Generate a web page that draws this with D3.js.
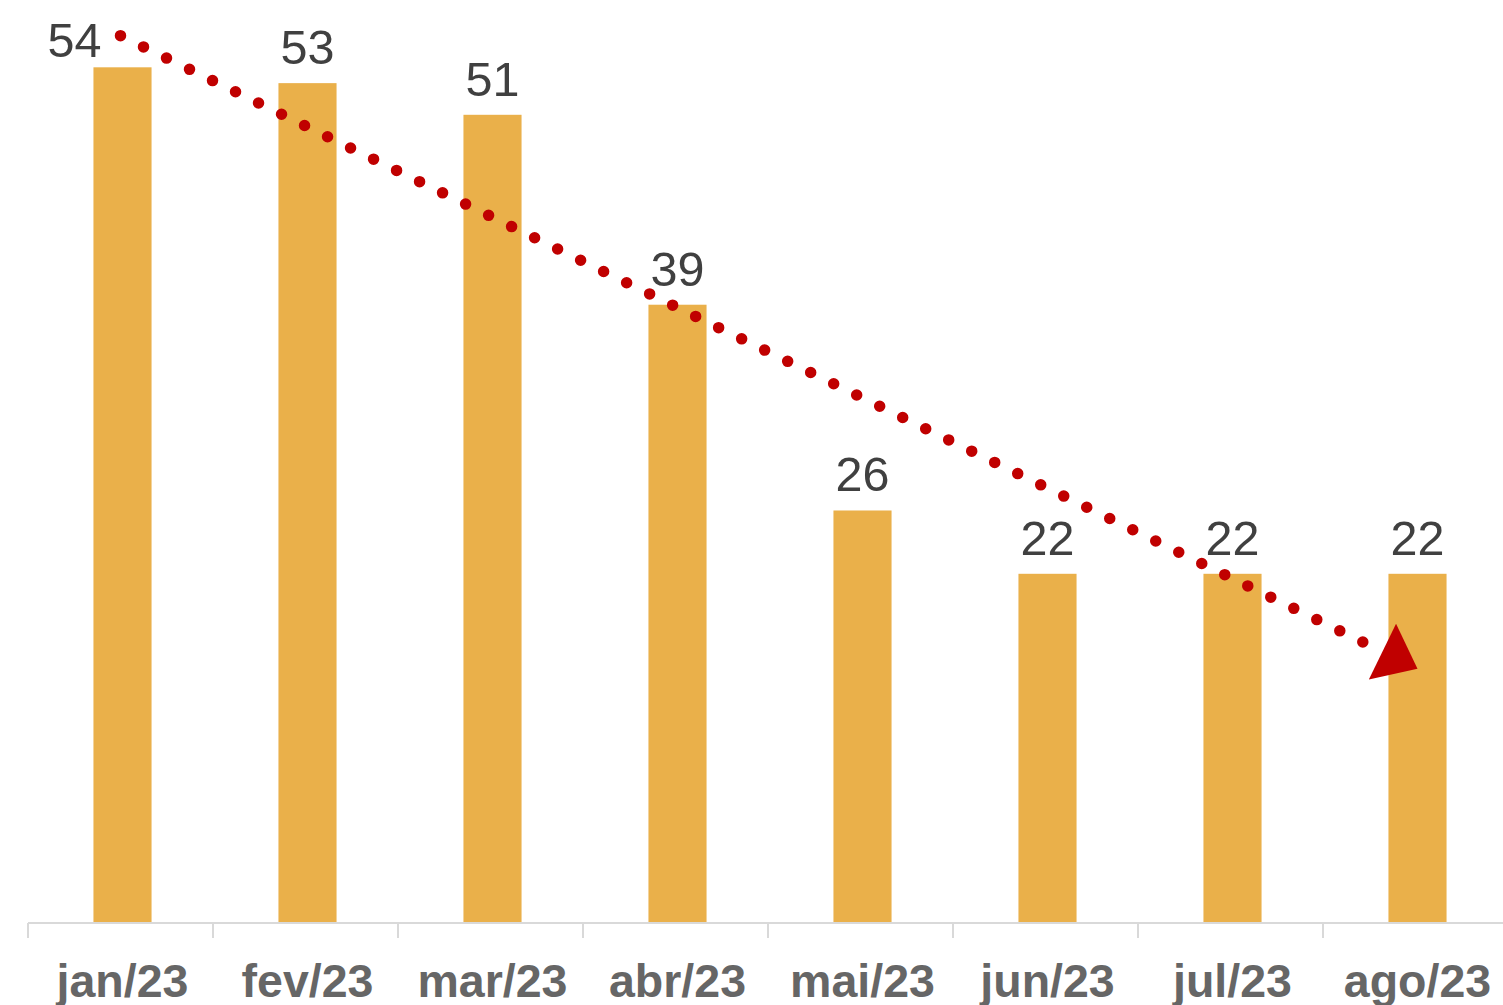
<!DOCTYPE html>
<html>
<head>
<meta charset="utf-8">
<script src="https://cdn.jsdelivr.net/npm/d3@7"></script>
<style>
  html, body { margin: 0; padding: 0; background: #fff; }
  svg { display: block; }
</style>
</head>
<body>
<div id="mainDiv"></div>
<script>
// chart data
var months = [ 'jan/23', 'fev/23', 'mar/23', 'abr/23', 'mai/23', 'jun/23', 'jul/23', 'ago/23' ];
var values = [ 54, 53, 51, 39, 26, 22, 22, 22 ];
// trend arrow annotation (start / end, in data units)
var trendFrom = { month: 'jan/23', value: 56 };
var trendTo = { month: 'ago/23', value: 16 };

var _width = 1503,
    _height = 1005,
    _baseY = 922,
    _barColor = '#EAB04A',
    _red = '#C00000';

var svg = d3.select( '#mainDiv' )
    .append( 'svg' )
    .attr( 'width', _width )
    .attr( 'height', _height );

var x = d3.scaleBand()
    .domain( months )
    .range( [ 30, 1510 ] )
    .paddingInner( 0.686 )
    .paddingOuter( 0.343 );

var y = d3.scaleLinear()
    .domain( [ 0, 58 ] )
    .range( [ _baseY, 4 ] );

var step = 185,
    x0 = 28;

// bars
svg.append( 'g' )
    .selectAll( 'rect' )
    .data( values )
    .join( 'rect' )
    .attr( 'x', function ( d, i ) { return x( months[ i ] ); } )
    .attr( 'y', function ( d ) { return y( d ); } )
    .attr( 'width', x.bandwidth() )
    .attr( 'height', function ( d ) { return y( 0 ) - y( d ); } )
    .attr( 'fill', _barColor );

// axis line + ticks
var axis = svg.append( 'g' ).attr( 'stroke', '#D9D9D9' ).attr( 'stroke-width', 2 );
axis.append( 'line' )
    .attr( 'x1', x0 ).attr( 'x2', _width )
    .attr( 'y1', _baseY + 1 ).attr( 'y2', _baseY + 1 );
axis.selectAll( 'line.tick' )
    .data( months )
    .join( 'line' )
    .attr( 'class', 'tick' )
    .attr( 'x1', function ( d, i ) { return x0 + i * step; } )
    .attr( 'x2', function ( d, i ) { return x0 + i * step; } )
    .attr( 'y1', _baseY + 1 )
    .attr( 'y2', _baseY + 16 );

// category labels
svg.append( 'g' )
    .selectAll( 'text' )
    .data( months )
    .join( 'text' )
    .attr( 'x', function ( d ) { return x( d ) + x.bandwidth() / 2; } )
    .attr( 'y', 997 )
    .attr( 'text-anchor', 'middle' )
    .attr( 'font-family', 'Liberation Sans, Arial, sans-serif' )
    .attr( 'font-weight', 'bold' )
    .attr( 'font-size', 46.5 )
    .attr( 'fill', '#666666' )
    .text( function ( d ) { return d; } );

// value labels
svg.append( 'g' )
    .selectAll( 'text' )
    .data( values )
    .join( 'text' )
    .attr( 'x', function ( d, i ) {
        var cx = x( months[ i ] ) + x.bandwidth() / 2;
        return i === 0 ? cx - 48 : cx;   // first label pushed left of the arrow
    } )
    .attr( 'y', function ( d, i ) { return i === 0 ? y( d ) - 10 : y( d ) - 19; } )
    .attr( 'text-anchor', 'middle' )
    .attr( 'font-family', 'Liberation Sans, Arial, sans-serif' )
    .attr( 'font-size', 48.5 )
    .attr( 'fill', '#404040' )
    .text( function ( d ) { return d; } );

// dotted trend arrow
var sx = x( trendFrom.month ) + x.bandwidth() / 2 - 2,
    sy = y( trendFrom.value ),
    ex = x( trendTo.month ) + x.bandwidth() / 2,
    ey = y( trendTo.value ),
    len = Math.sqrt( ( ex - sx ) * ( ex - sx ) + ( ey - sy ) * ( ey - sy ) ),
    ux = ( ex - sx ) / len,
    uy = ( ey - sy ) / len,
    headLen = 39,
    headHalf = 31,
    bx = ex - ux * headLen,
    by = ey - uy * headLen;

svg.append( 'line' )
    .attr( 'x1', sx ).attr( 'y1', sy )
    .attr( 'x2', bx - ux * 14 ).attr( 'y2', by - uy * 14 )
    .attr( 'stroke', _red )
    .attr( 'stroke-width', 11.5 )
    .attr( 'stroke-linecap', 'round' )
    .attr( 'stroke-dasharray', '0,25.6' );

svg.append( 'polygon' )
    .attr( 'points', [
        [ ex, ey ],
        [ bx - uy * headHalf, by + ux * headHalf ],
        [ bx + uy * headHalf, by - ux * headHalf ]
    ].map( function ( p ) { return p.join( ',' ); } ).join( ' ' ) )
    .attr( 'fill', _red );
</script>
</body>
</html>
